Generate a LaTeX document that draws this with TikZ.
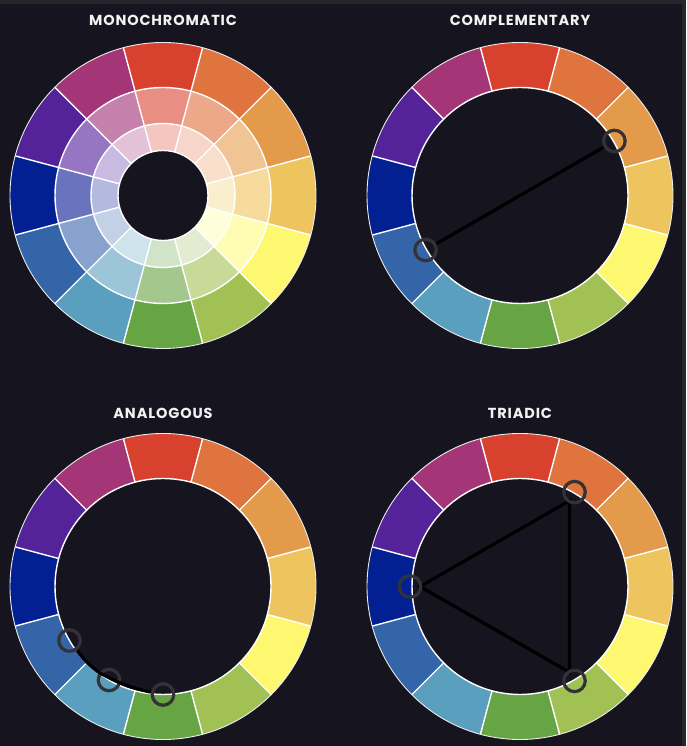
\documentclass[tikz,border=0pt]{standalone}
\usepackage{fontspec}
\setsansfont{Poppins}[LetterSpace=6]
\definecolor{bgdark}{HTML}{16141E}
\definecolor{edgegray}{HTML}{26252A}
\definecolor{markgray}{HTML}{333236}
\definecolor{titlewhite}{HTML}{F2F2F2}
% pure hues, clockwise from the top
\definecolor{hue1}{HTML}{D9412F}
\definecolor{hue2}{HTML}{DF743E}
\definecolor{hue3}{HTML}{E49A4B}
\definecolor{hue4}{HTML}{EEC45F}
\definecolor{hue5}{HTML}{FEF870}
\definecolor{hue6}{HTML}{A2C154}
\definecolor{hue7}{HTML}{67A443}
\definecolor{hue8}{HTML}{5B9FBF}
\definecolor{hue9}{HTML}{3465A8}
\definecolor{hue10}{HTML}{032093}
\definecolor{hue11}{HTML}{542399}
\definecolor{hue12}{HTML}{A43677}
% middle ring of the monochromatic wheel
\definecolor{tone1}{HTML}{E98E83}
\definecolor{tone2}{HTML}{EDA88A}
\definecolor{tone3}{HTML}{F0C493}
\definecolor{tone4}{HTML}{F6DB9C}
\definecolor{tone5}{HTML}{FFFCB4}
\definecolor{tone6}{HTML}{C7DA98}
\definecolor{tone7}{HTML}{A3C78C}
\definecolor{tone8}{HTML}{9CC5D9}
\definecolor{tone9}{HTML}{87A2CC}
\definecolor{tone10}{HTML}{6A73BD}
\definecolor{tone11}{HTML}{9676C2}
\definecolor{tone12}{HTML}{C580AC}
% inner ring of the monochromatic wheel
\definecolor{tint1}{HTML}{F5C5C0}
\definecolor{tint2}{HTML}{F6D6C9}
\definecolor{tint3}{HTML}{F8DFCB}
\definecolor{tint4}{HTML}{FBEECF}
\definecolor{tint5}{HTML}{FEFEDA}
\definecolor{tint6}{HTML}{E3EBD0}
\definecolor{tint7}{HTML}{D1E4C7}
\definecolor{tint8}{HTML}{CEE3EC}
\definecolor{tint9}{HTML}{C3D1E6}
\definecolor{tint10}{HTML}{B4B9DF}
\definecolor{tint11}{HTML}{C9BAE2}
\definecolor{tint12}{HTML}{E3C2D8}
\tikzset{
	wheeltitle/.style = {font=\sffamily\bfseries\fontsize{14.5}{17}\selectfont,
		text=titlewhite, inner sep=0pt},% heading over a wheel
	seam/.style = {draw=white, line width=1.4pt},% white gaps between patches
	rim/.style = {draw=white!92!black, line width=0.9pt},% outer edge
	marker/.style = {circle, draw=markgray, line width=3.2pt,
		minimum size=21.5pt, inner sep=0pt},% picked hue
	link/.style = {draw=black, line width=3.2pt}% line between picked hues
}
\begin{document}
\begin{tikzpicture}[x=1pt,y=1pt]
	\useasboundingbox (0,0) rectangle (686,746);
	\fill[bgdark] (0,0) rectangle (686,746);
	\fill[edgegray] (0,742.3) rectangle (686,746);
	\fill[edgegray] (682,0) rectangle (686,742.3);

	% outer hue ring of every wheel
	\foreach \cx/\cy in {163/550.5, 520/550.5, 163/159.5, 520/159.5}{
		\begin{scope}[shift={(\cx,\cy)}]
			\foreach \i in {1,...,12}{
				\pgfmathsetmacro\a{105-30*\i}
				\pgfmathsetmacro\b{\a+30}
				\fill[hue\i] (\a:108pt) -- (\a:153pt)
					arc[start angle=\a, end angle=\b, radius=153pt] -- (\b:108pt)
					arc[start angle=\b, end angle=\a, radius=108pt] -- cycle;
			}
		\end{scope}
	}

	% lighter rings of the monochromatic wheel
	\begin{scope}[shift={(163,550.5)}]
		\foreach \i in {1,...,12}{
			\pgfmathsetmacro\a{105-30*\i}
			\pgfmathsetmacro\b{\a+30}
			\fill[tone\i] (\a:72pt) -- (\a:108pt)
				arc[start angle=\a, end angle=\b, radius=108pt] -- (\b:72pt)
				arc[start angle=\b, end angle=\a, radius=72pt] -- cycle;
			\fill[tint\i] (\a:45pt) -- (\a:72pt)
				arc[start angle=\a, end angle=\b, radius=72pt] -- (\b:45pt)
				arc[start angle=\b, end angle=\a, radius=45pt] -- cycle;
		}
		\draw[seam] (0,0) circle[radius=72pt] (0,0) circle[radius=45pt];
	\end{scope}

	% seams and rims
	\foreach \cx/\cy/\rin in {163/550.5/45pt, 520/550.5/108pt, 163/159.5/108pt, 520/159.5/108pt}{
		\begin{scope}[shift={(\cx,\cy)}]
			\foreach \a in {75,45,...,-255}
				\draw[seam] (\a:\rin) -- (\a:153pt);
			\draw[seam] (0,0) circle[radius=108pt];
			\draw[rim] (0,0) circle[radius=153pt];
		\end{scope}
	}

	\node[wheeltitle] (monotitle) at (163,726) {MONOCHROMATIC};
	\node[wheeltitle] (comptitle) at (520,726) {COMPLEMENTARY};
	\node[wheeltitle] (anatitle) at (163,333) {ANALOGOUS};
	\node[wheeltitle] (trititle) at (520,333) {TRIADIC};

	% complementary pair
	\begin{scope}[shift={(520,550.5)}]
		\node[marker] (compA) at (30:109pt) {};
		\node[marker] (compB) at (210:109pt) {};
		\draw[link] (compA) -- (compB);
	\end{scope}

	% analogous run
	\begin{scope}[shift={(163,159.5)}]
		\node[marker] (anaA) at (210:108pt) {};
		\node[marker] (anaB) at (240:108pt) {};
		\node[marker] (anaC) at (270:108pt) {};
		\draw[link] (anaA) to[bend right=8] (anaB) to[bend right=8] (anaC);
	\end{scope}

	% triadic triangle
	\begin{scope}[shift={(520,159.5)}]
		\coordinate (triA) at (60:99pt);
		\coordinate (triB) at (180:100pt);
		\coordinate (triC) at (300:99pt);
		\draw[link] (triA) -- (triB) -- (triC) -- cycle;
		\node[marker] (triAm) at (60:109pt) {};
		\node[marker] (triBm) at (180:110pt) {};
		\node[marker] (triCm) at (300:109pt) {};
	\end{scope}
\end{tikzpicture}
\end{document}
